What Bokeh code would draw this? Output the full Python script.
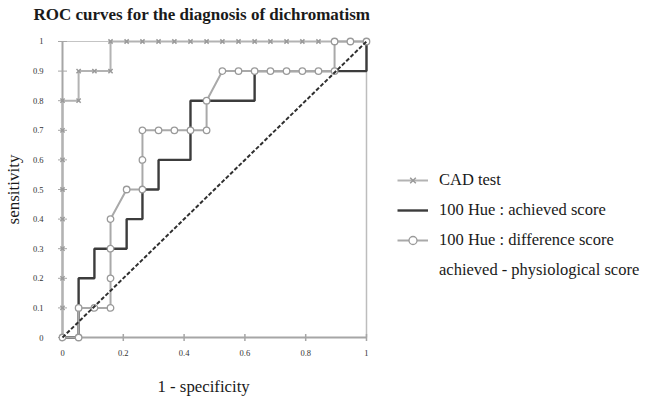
import math
from bokeh.plotting import figure
from bokeh.models import FixedTicker, Legend, LegendItem, Range1d, Title
from bokeh.embed import file_html
from bokeh.resources import INLINE

# ---------------- data ----------------
x_tick_values = [0, 0.2, 0.4, 0.6, 0.8, 1]
x_tick_labels = ["0", "0.2", "0.4", "0.6", "0.8", "1"]
y_tick_values = [0, 0.1, 0.2, 0.3, 0.4, 0.5, 0.6, 0.7, 0.8, 0.9, 1]
y_tick_labels = ["0", "0.1", "0.2", "0.3", "0.4", "0.5", "0.6", "0.7", "0.8", "0.9", "1"]

# CAD test
cad_fpr = [0, 0, 0, 0, 0, 0, 0, 0, 0, 0.053, 0.053, 0.105, 0.158, 0.158,
           0.211, 0.263, 0.316, 0.368, 0.421, 0.474, 0.526, 0.579, 0.632,
           0.684, 0.737, 0.789, 0.842, 0.895, 0.947, 1.0]
cad_tpr = [0, 0.1, 0.2, 0.3, 0.4, 0.5, 0.6, 0.7, 0.8, 0.8, 0.9, 0.9, 0.9, 1.0,
           1.0, 1.0, 1.0, 1.0, 1.0, 1.0, 1.0, 1.0, 1.0,
           1.0, 1.0, 1.0, 1.0, 1.0, 1.0, 1.0]

# 100 Hue : achieved score
ach_fpr = [0, 0.053, 0.053, 0.105, 0.105, 0.211, 0.211, 0.263, 0.263, 0.316,
           0.316, 0.421, 0.421, 0.632, 0.632, 1.0, 1.0]
ach_tpr = [0, 0, 0.2, 0.2, 0.3, 0.3, 0.4, 0.4, 0.5, 0.5,
           0.6, 0.6, 0.8, 0.8, 0.9, 0.9, 1.0]

# 100 Hue : difference score achieved - physiological score
diff_fpr = [0, 0.053, 0.053, 0.105, 0.158, 0.158, 0.158, 0.158, 0.211, 0.263,
            0.263, 0.263, 0.316, 0.368, 0.421, 0.474, 0.474, 0.526, 0.579,
            0.632, 0.684, 0.737, 0.789, 0.842, 0.895, 0.895, 0.947, 1.0]
diff_tpr = [0, 0, 0.1, 0.1, 0.1, 0.2, 0.3, 0.4, 0.5, 0.5,
            0.6, 0.7, 0.7, 0.7, 0.7, 0.7, 0.8, 0.9, 0.9,
            0.9, 0.9, 0.9, 0.9, 0.9, 0.9, 1.0, 1.0, 1.0]

# chance diagonal
ref_fpr = [0, 1]
ref_tpr = [0, 1]

series_labels = ["CAD test", "100 Hue : achieved score",
                 "100 Hue : difference score", "achieved - physiological score"]

# ---------------- styling ----------------
SERIF = "Liberation Serif"
C_CAD = "#b3b3b3"
C_ACH = "#3c3c3c"
C_DIFF = "#a9a9a9"
C_AXIS = "#a6a6a6"

p = figure(width=645, height=398, output_backend="svg", toolbar_location=None,
           x_range=Range1d(-0.0329, 1.9178), y_range=Range1d(-0.027, 1.027),
           min_border_left=52, min_border_right=0, min_border_top=33,
           min_border_bottom=53)

# padding given as (left, right, top, bottom)
p.title = Title(text="ROC curves for the diagnosis of dichromatism",
                align="left", offset=-19, standoff=0, padding=(0, 0, 0, 10),
                text_font=SERIF, text_font_size="17px", text_font_style="bold",
                text_color="#1a1a1a")

p.outline_line_color = None
p.grid.visible = False
p.background_fill_color = "white"

p.xaxis.ticker = FixedTicker(ticks=x_tick_values)
p.xaxis.major_label_overrides = {v: l for v, l in zip(x_tick_values, x_tick_labels)}
p.yaxis.ticker = FixedTicker(ticks=y_tick_values)
p.yaxis.major_label_overrides = {v: l for v, l in zip(y_tick_values, y_tick_labels)}
for ax in (p.xaxis, p.yaxis):
    ax.axis_line_color = None
    ax.major_tick_line_color = None
    ax.minor_tick_line_color = None
    ax.major_tick_out = 0
    ax.major_tick_in = 0
    ax.minor_tick_out = 0
    ax.minor_tick_in = 0
    ax.major_label_text_font = SERIF
    ax.major_label_text_font_size = "8.5px"
    ax.major_label_text_color = "#333333"
    ax.axis_label_text_font = SERIF
    ax.axis_label_text_font_style = "normal"
    ax.axis_label_text_color = "#1a1a1a"
p.yaxis.axis_label = "sensitivity"
p.yaxis.axis_label_text_font_size = "17px"
p.xaxis.major_label_standoff = 4
p.yaxis.major_label_standoff = 9
p.yaxis.axis_label_standoff = 7

# x-axis title, placed below the tick labels
xlab = Title(text="1 - specificity", align="left", offset=105, standoff=0,
             padding=(0, 0, 16, 0),
             text_font=SERIF, text_font_size="16.8px", text_font_style="normal",
             text_color="#1a1a1a")
p.add_layout(xlab, "below")

# plot-area border (top and right) and axis lines
x0, x1 = x_tick_values[0], x_tick_values[-1]
y0, y1 = y_tick_values[0], y_tick_values[-1]
p.line([x0, x1], [y1, y1], line_color="#c4c4c4", line_width=1.2)
p.line([x1, x1], [y0, y1], line_color="#bdbdbd", line_width=1.5)
p.line([x0, x0], [y0, y1], line_color=C_AXIS, line_width=2)
p.line([x0, x1], [y0, y0], line_color=C_AXIS, line_width=2)
# tick marks crossing the axes
p.scatter([x0] * len(y_tick_values), y_tick_values, marker="dash", size=9,
          line_color=C_AXIS, line_width=1)
p.scatter(x_tick_values[1:], [y0] * (len(x_tick_values) - 1), marker="dash",
          angle=math.pi / 2, size=7, line_color=C_AXIS, line_width=1.5)

# series
r_cad_l = p.line(cad_fpr, cad_tpr, line_color=C_CAD, line_width=2)
r_cad_m = p.scatter(cad_fpr, cad_tpr, marker="x", size=6, line_color="#9a9a9a",
                    line_width=1.5)
r_ach = p.line(ach_fpr, ach_tpr, line_color=C_ACH, line_width=2.4)
r_diff_l = p.line(diff_fpr, diff_tpr, line_color=C_DIFF, line_width=2)
r_diff_m = p.scatter(diff_fpr, diff_tpr, marker="circle", size=6.5,
                     fill_color="white", line_color="#9a9a9a", line_width=1.3)
r_blank = p.line([], [], line_alpha=0)
p.line(ref_fpr, ref_tpr, line_color="#303030", line_width=2, line_dash="4 2")

legend = Legend(items=[
    LegendItem(label=series_labels[0], renderers=[r_cad_l, r_cad_m]),
    LegendItem(label=series_labels[1], renderers=[r_ach]),
    LegendItem(label=series_labels[2], renderers=[r_diff_l, r_diff_m]),
    LegendItem(label=series_labels[3], renderers=[r_blank]),
], location=(345, 65))
legend.label_text_font = SERIF
legend.label_text_font_size = "16.5px"
legend.label_text_color = "#1a1a1a"
legend.glyph_width = 31
legend.glyph_height = 20
legend.label_height = 20
legend.spacing = 10
legend.padding = 0
legend.margin = 0
legend.label_standoff = 11
legend.border_line_color = None
legend.background_fill_alpha = 0
p.add_layout(legend)

open("out.html", "w").write(file_html(p, INLINE))
